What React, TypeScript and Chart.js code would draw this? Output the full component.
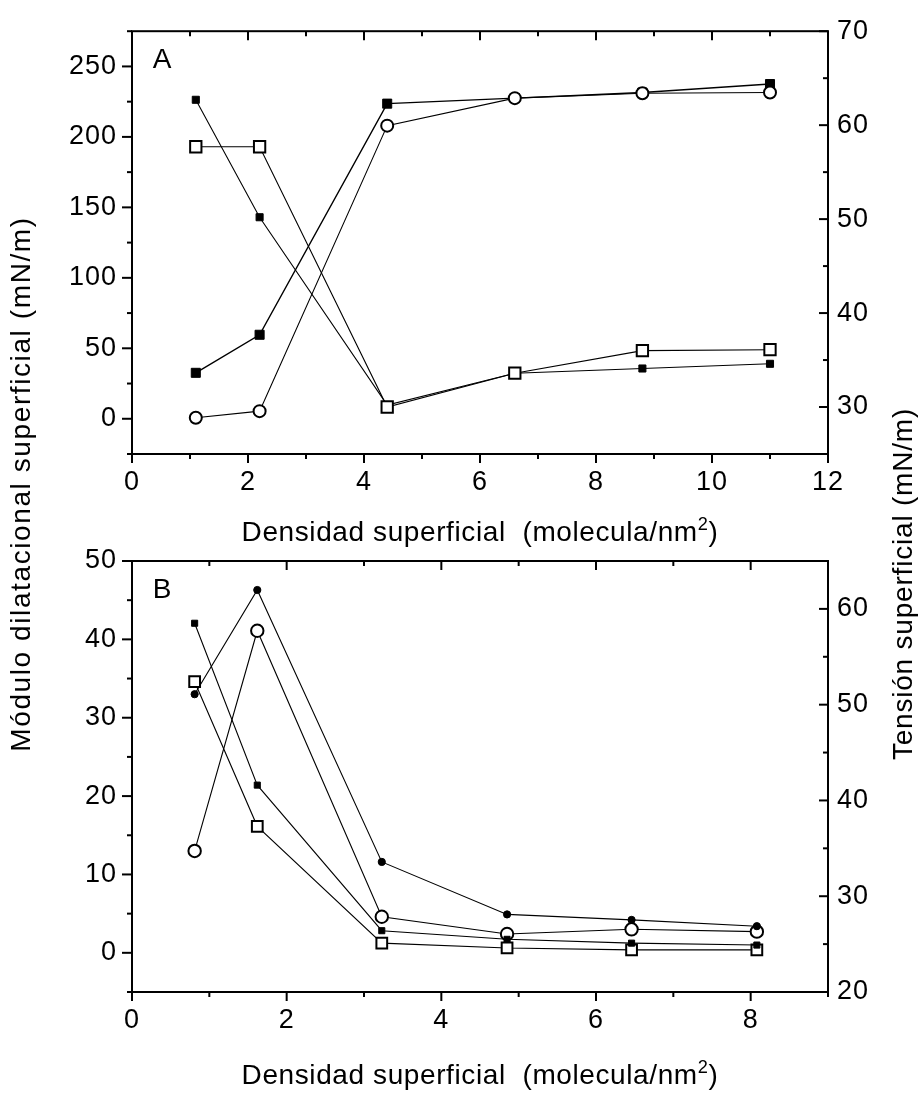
import React, { useEffect, useRef } from 'react';
import { Chart, registerables } from 'chart.js';

Chart.register(...registerables);

const FONT = '"Liberation Sans", Arial, Helvetica, sans-serif';

// ---- Panel A ----
const densityA = [1.1, 2.2, 4.4, 6.6, 8.8, 11.0];
const modulusA_openCircle = [0.7, 5.4, 208, 227.5, 231, 231.5];
const modulusA_filledSquare = [32.6, 59.6, 223.6, 227.5, 231.5, 237.5];
const tensionA_openSquare = [57.7, 57.7, 30.0, 33.6, 36.0, 36.1];
const tensionA_smallSquare = [62.7, 50.2, 30.2, 33.6, 34.1, 34.6];

const xTicksA = [0, 2, 4, 6, 8, 10, 12];
const leftTicksA = [0, 50, 100, 150, 200, 250];
const rightTicksA = [30, 40, 50, 60, 70];

// ---- Panel B ----
const densityB = [0.81, 1.62, 3.23, 4.85, 6.46, 8.08];
const modulusB_filledCircle = [33.0, 46.3, 11.6, 4.9, 4.2, 3.4];
const modulusB_openCircle = [13.0, 41.1, 4.6, 2.4, 3.0, 2.7];
const tensionB_smallSquare = [58.5, 41.6, 26.4, 25.5, 25.1, 24.9];
const tensionB_openSquare = [52.4, 37.3, 25.1, 24.6, 24.4, 24.4];

const xTicksB = [0, 2, 4, 6, 8];
const leftTicksB = [0, 10, 20, 30, 40, 50];
const rightTicksB = [20, 30, 40, 50, 60];

const pts = (xs: number[], ys: number[]) => xs.map((x, i) => ({ x, y: ys[i] }));

type Marker = 'openCircle' | 'openSquare' | 'filledSquare' | 'filledCircle';

function series(xs: number[], ys: number[], marker: Marker, r: number, axis: string, lw = 1.1) {
  const open = marker === 'openCircle' || marker === 'openSquare';
  const round = marker === 'openCircle' || marker === 'filledCircle';
  return {
    data: pts(xs, ys),
    yAxisID: axis,
    showLine: true,
    borderColor: '#000',
    borderWidth: lw,
    pointStyle: round ? 'circle' : 'rect',
    pointRadius: r,
    pointHoverRadius: r,
    pointBackgroundColor: open ? '#fff' : '#000',
    pointBorderColor: '#000',
    pointBorderWidth: open ? 2 : 1,
  };
}

// Frame, inward/outward tick marks and the panel letter
const frameTicks = {
  id: 'frameTicks',
  beforeDraw(chart: any) {
    chart.ctx.letterSpacing = '1px';
  },
  afterDraw(chart: any, _args: any, o: any) {
    const { ctx, chartArea: ca, scales } = chart;
    const sx = scales.x;
    const sy = scales.y;
    const sr = scales.yR;
    ctx.save();
    ctx.strokeStyle = '#000';
    ctx.fillStyle = '#000';
    ctx.lineCap = 'butt';
    ctx.lineWidth = 2;
    ctx.strokeRect(ca.left, ca.top, ca.right - ca.left, ca.bottom - ca.top);
    const seg = (x1: number, y1: number, x2: number, y2: number, w: number) => {
      ctx.lineWidth = w;
      ctx.beginPath();
      ctx.moveTo(x1, y1);
      ctx.lineTo(x2, y2);
      ctx.stroke();
    };
    const major = (v: number, list: number[]) => list.some((t) => Math.abs(t - v) < 1e-6);
    const steps = (min: number, max: number, step: number) => {
      const out: number[] = [];
      const n = Math.round((max - min) / step);
      for (let i = 0; i <= n; i++) out.push(min + i * step);
      return out;
    };
    steps(sx.min, sx.max, o.xMinor).forEach((v) => {
      const px = sx.getPixelForValue(v);
      const len = major(v, o.xTicks) ? 9 : 5;
      seg(px, ca.bottom, px, ca.bottom + len, 2);
      seg(px, ca.top, px, ca.top + len, 2);
    });
    steps(sy.min, sy.max, o.yMinor).forEach((v) => {
      const py = sy.getPixelForValue(v);
      const len = major(v, o.yTicks) ? 10 : 5;
      seg(ca.left - len, py, ca.left, py, 2);
    });
    steps(sr.min, sr.max, o.rMinor).forEach((v) => {
      const py = sr.getPixelForValue(v);
      const len = major(v, o.rTicks) ? 9 : 5;
      seg(ca.right - len, py, ca.right, py, 2);
    });
    ctx.letterSpacing = '0px';
    ctx.font = `28px ${FONT}`;
    ctx.textAlign = 'center';
    ctx.textBaseline = 'alphabetic';
    ctx.fillText(o.label, ca.left + 30, ca.top + 37);
    ctx.restore();
  },
};

const tickFont = { family: FONT, size: 27 };

function panelConfig(p: any) {
  const fixTicks = (list: number[]) => (s: any) => {
    s.ticks = list.map((v) => ({ value: v }));
  };
  return {
    type: 'scatter',
    data: { datasets: p.datasets },
    plugins: [frameTicks],
    options: {
      responsive: false,
      animation: false,
      devicePixelRatio: 1,
      layout: { padding: { top: p.padTop, left: 0, right: 0, bottom: 0 } },
      plugins: {
        legend: { display: false },
        tooltip: { enabled: false },
        frameTicks: {
          label: p.label,
          xTicks: p.xTicks,
          yTicks: p.yTicks,
          rTicks: p.rTicks,
          xMinor: 1,
          yMinor: p.yMinor,
          rMinor: 5,
        },
      },
      scales: {
        x: {
          type: 'linear',
          position: 'bottom',
          min: p.xMin,
          max: p.xMax,
          afterBuildTicks: fixTicks(p.xTicks),
          afterFit: (s: any) => {
            s.height = p.xAxisHeight;
          },
          ticks: {
            font: tickFont,
            color: '#000',
            padding: 12,
            maxRotation: 0,
            autoSkip: false,
            callback: (v: any) => String(v),
          },
          grid: { display: false, drawTicks: false },
          border: { display: false },
        },
        y: {
          type: 'linear',
          position: 'left',
          min: p.yMin,
          max: p.yMax,
          afterBuildTicks: fixTicks(p.yTicks),
          afterFit: (s: any) => {
            s.width = 132;
          },
          ticks: { font: tickFont, color: '#000', padding: 15, callback: (v: any) => String(v) },
          grid: { display: false, drawTicks: false },
          border: { display: false },
        },
        yR: {
          type: 'linear',
          position: 'right',
          min: p.rMin,
          max: p.rMax,
          afterBuildTicks: fixTicks(p.rTicks),
          afterFit: (s: any) => {
            s.width = 95;
          },
          ticks: { font: tickFont, color: '#000', padding: 9, callback: (v: any) => String(v) },
          grid: { display: false, drawTicks: false },
          border: { display: false },
        },
      },
    },
  };
}

const titleStyle: React.CSSProperties = {
  position: 'absolute',
  fontFamily: FONT,
  fontSize: 28,
  lineHeight: '30px',
  height: 30,
  color: '#000',
  textAlign: 'center',
  whiteSpace: 'nowrap',
};

const supStyle: React.CSSProperties = {
  fontSize: '0.65em',
  position: 'relative',
  top: '-0.6em',
};

function XTitle({ top }: { top: number }) {
  return (
    <div style={{ ...titleStyle, left: 132, width: 696, top, letterSpacing: '0.6px' }}>
      Densidad superficial&nbsp; (molecula/nm<span style={supStyle}>2</span>)
    </div>
  );
}

export default function App() {
  const refA = useRef<HTMLCanvasElement>(null);
  const refB = useRef<HTMLCanvasElement>(null);

  useEffect(() => {
    const chartA = new Chart(
      refA.current as HTMLCanvasElement,
      panelConfig({
        label: 'A',
        padTop: 23,
        xAxisHeight: 106,
        xMin: 0,
        xMax: 12,
        yMin: -25,
        yMax: 275,
        rMin: 25,
        rMax: 70,
        xTicks: xTicksA,
        yTicks: leftTicksA,
        rTicks: rightTicksA,
        yMinor: 25,
        datasets: [
          series(densityA, modulusA_openCircle, 'openCircle', 6, 'y'),
          series(densityA, tensionA_openSquare, 'openSquare', 8, 'yR'),
          series(densityA, modulusA_filledSquare, 'filledSquare', 6.4, 'y', 1.4),
          series(densityA, tensionA_smallSquare, 'filledSquare', 5, 'yR'),
        ],
      }) as any
    );
    const chartB = new Chart(
      refB.current as HTMLCanvasElement,
      panelConfig({
        label: 'B',
        padTop: 41,
        xAxisHeight: 102,
        xMin: 0,
        xMax: 9,
        yMin: -5,
        yMax: 50,
        rMin: 20,
        rMax: 65,
        xTicks: xTicksB,
        yTicks: leftTicksB,
        rTicks: rightTicksB,
        yMinor: 5,
        datasets: [
          series(densityB, modulusB_filledCircle, 'filledCircle', 3.6, 'y'),
          series(densityB, tensionB_smallSquare, 'filledSquare', 4.3, 'yR'),
          series(densityB, modulusB_openCircle, 'openCircle', 6.2, 'y'),
          series(densityB, tensionB_openSquare, 'openSquare', 7.6, 'yR'),
        ],
      }) as any
    );
    return () => {
      chartA.destroy();
      chartB.destroy();
    };
  }, []);

  return (
    <div
      style={{
        position: 'absolute',
        left: 0,
        top: 0,
        width: 923,
        height: 1094,
        background: '#fff',
        overflow: 'hidden',
      }}
    >
      <canvas ref={refA} width={923} height={560} style={{ position: 'absolute', left: 0, top: 0 }} />
      <canvas ref={refB} width={923} height={574} style={{ position: 'absolute', left: 0, top: 520 }} />
      <XTitle top={517} />
      <XTitle top={1060} />
      <div
        style={{
          ...titleStyle,
          width: 640,
          left: 21 - 320,
          top: 484 - 15,
          letterSpacing: '1.6px',
          transform: 'rotate(-90deg)',
        }}
      >
        Módulo dilatacional superficial (mN/m)
      </div>
      <div
        style={{
          ...titleStyle,
          width: 640,
          left: 903 - 320,
          top: 584 - 15,
          letterSpacing: '0.8px',
          transform: 'rotate(-90deg)',
        }}
      >
        Tensión superficial (mN/m)
      </div>
    </div>
  );
}
